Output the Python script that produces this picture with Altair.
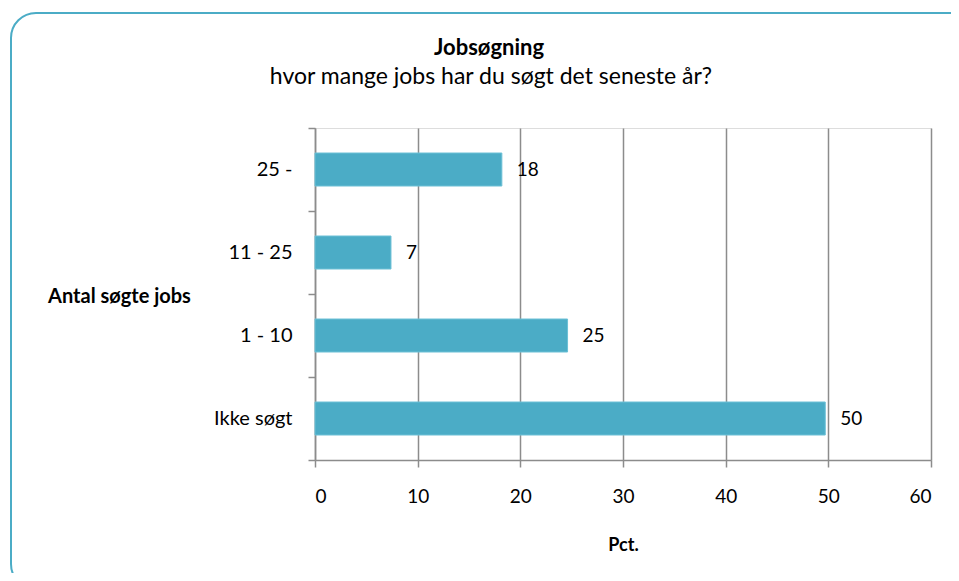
import altair as alt
import pandas as pd

categories = ["25 -", "11 - 25", "1 - 10", "Ikke søgt"]
values = [18.2, 7.4, 24.6, 49.7]
labels = ["18", "7", "25", "50"]
x_ticks = [0, 10, 20, 30, 40, 50, 60]
title_text = "Jobsøgning"
subtitle_text = "hvor mange jobs har du søgt det seneste år?"

df = pd.DataFrame({"cat": categories, "val": values, "lab": labels})
one = pd.DataFrame({"a": [0]})

FONT = "Lato"
TEAL = "#4bacc6"
GRAY = "#8c8c8c"

y_enc = alt.Y(
    "cat:N",
    sort=categories,
    scale=alt.Scale(paddingInner=0, paddingOuter=0),
    axis=alt.Axis(
        title="Antal søgte jobs",
        titleAngle=0,
        titleAlign="center",
        titleBaseline="middle",
        titleX=-196,
        titleY=168,
        titleFontWeight="bold",
        titleFontSize=20,
        titleFont=FONT,
        titleColor="#000000",
        tickBand="extent",
        tickSize=7,
        tickColor=GRAY,
        tickWidth=1.5,
        domainColor=GRAY,
        domainWidth=1.5,
        labelPadding=16,
        labelFontSize=20,
        labelFont=FONT,
        labelColor="#000000",
        grid=False,
    ),
)

x_enc = alt.X(
    "val:Q",
    scale=alt.Scale(domain=[0, 60], nice=False),
    axis=alt.Axis(
        title="Pct.",
        values=x_ticks,
        titleFontWeight="bold",
        titleFontSize=18,
        titleFont=FONT,
        titleColor="#000000",
        titlePadding=30,
        labelPadding=20,
        labelFontSize=19,
        labelFont=FONT,
        labelColor="#000000",
        tickSize=7,
        tickColor=GRAY,
        tickWidth=1.5,
        domainColor=GRAY,
        domainWidth=1.5,
        grid=True,
        gridColor=GRAY,
        gridWidth=1.5,
    ),
)

border = alt.Chart(one).mark_rect(
    fill="transparent", stroke=TEAL, strokeWidth=2, cornerRadius=25
).encode(
    x=alt.value(-304), x2=alt.value(659), y=alt.value(-115), y2=alt.value(461)
)

title_mark = alt.Chart(one).mark_text(
    align="center", baseline="middle", fontSize=22, fontWeight="bold", font=FONT, color="#000000"
).encode(x=alt.value(174), y=alt.value(-80), text=alt.value(title_text))

subtitle_mark = alt.Chart(one).mark_text(
    align="center", baseline="middle", fontSize=23, font=FONT, color="#000000"
).encode(x=alt.value(176), y=alt.value(-51), text=alt.value(subtitle_text))

bars = alt.Chart(df).mark_bar(size=33, color=TEAL, stroke="#6cc0d6", strokeWidth=1).encode(
    x=x_enc, y=y_enc
)

text = alt.Chart(df).mark_text(
    align="left", baseline="middle", dx=15, fontSize=19, font=FONT, color="#000000"
).encode(x="val:Q", y=alt.Y("cat:N", sort=categories), text="lab:N")

chart = alt.layer(border, title_mark, subtitle_mark, bars, text).properties(
    width=616,
    height=332,
    autosize=alt.AutoSizeParams(type="none"),
    padding={"left": 307, "top": 120, "right": 20, "bottom": 113},
).configure_view(stroke=None).configure(background="white")

chart.save("out.html", embed_options={"renderer": "svg", "actions": False})
